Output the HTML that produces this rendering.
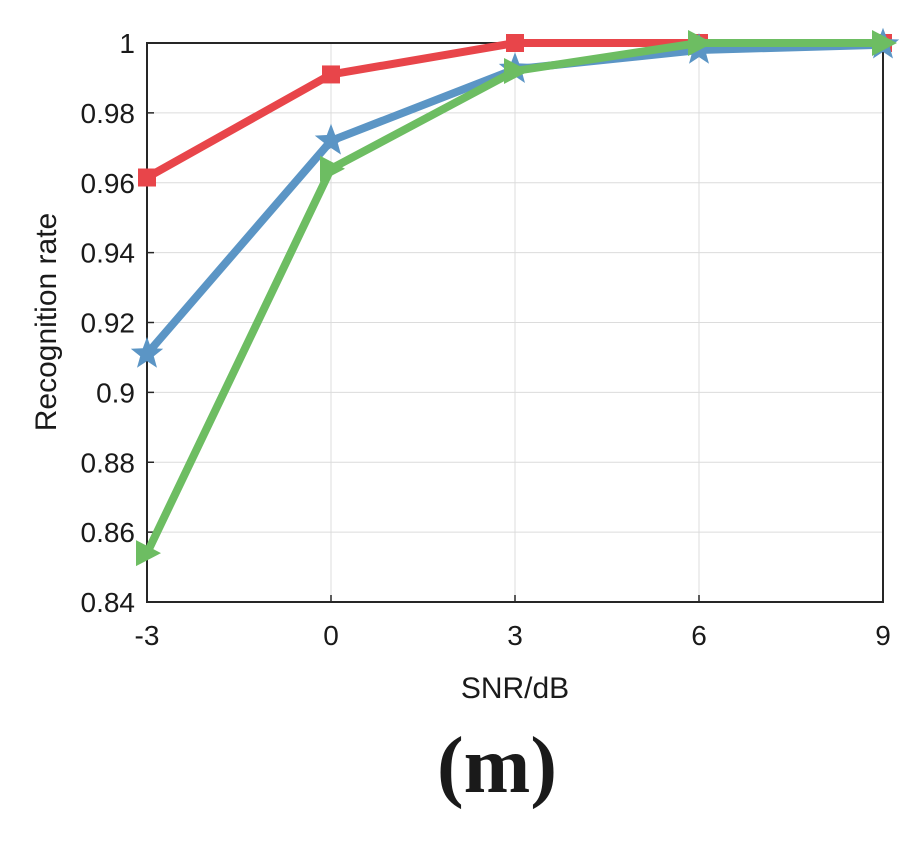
<!DOCTYPE html>
<html><head><meta charset="utf-8"><style>
body{margin:0;background:#fff;width:922px;height:837px;overflow:hidden}
text{font-family:"Liberation Sans",Arial,sans-serif;fill:#1a1a1a}
</style></head><body>
<svg id="chart" width="922" height="837" xmlns="http://www.w3.org/2000/svg">
<g id="grid"></g>
<g id="axes"></g>
<g id="series"></g>
<text x="515" y="698" font-size="30" text-anchor="middle">SNR/dB</text>
<text transform="translate(56,322) rotate(-90)" font-size="30" text-anchor="middle">Recognition rate</text>
<text x="497" y="792" font-size="80" font-weight="bold" text-anchor="middle" style="font-family:'Liberation Serif',serif">(m)</text>
</svg>
<script>
const categories=[-3,0,3,6,9];
const redValues=[0.9615,0.991,1.0,1.0,1.0];
const blueValues=[0.911,0.972,0.9925,0.998,0.9995];
const greenValues=[0.854,0.964,0.992,1.0,1.0];
const yTicks=[0.84,0.86,0.88,0.9,0.92,0.94,0.96,0.98,1];
const yTickLabels=['0.84','0.86','0.88','0.9','0.92','0.94','0.96','0.98','1'];
const xTickLabels=['-3','0','3','6','9'];
const L=147,R=883,T=43,B=602;
const x=v=>L+(v+3)/12*(R-L);
const y=v=>B-(v-0.84)/0.16*(B-T);
const NS='http://www.w3.org/2000/svg';
function mk(tag,attrs,parent){const e=document.createElementNS(NS,tag);for(const k in attrs)e.setAttribute(k,attrs[k]);parent.appendChild(e);return e;}
const grid=document.getElementById('grid'),axes=document.getElementById('axes'),series=document.getElementById('series');
yTicks.forEach((t,i)=>{
  const g=mk('line',{x1:L,x2:R,y1:y(t),y2:y(t),stroke:'#dcdcdc','stroke-width':1},grid);
  
  
  const tk=mk('line',{x1:L,x2:L+7,y1:y(t),y2:y(t),stroke:'#262626','stroke-width':1.5},axes);
  
  
  const lb=mk('text',{x:L-12,y:y(t)+10,'font-size':28,'text-anchor':'end'},axes);
  lb.textContent=yTickLabels[i];
  
  
});
categories.forEach((c,i)=>{
  const g=mk('line',{x1:x(c),x2:x(c),y1:T,y2:B,stroke:'#dcdcdc','stroke-width':1},grid);
  
  
  const tk=mk('line',{x1:x(c),x2:x(c),y1:B,y2:B-7,stroke:'#262626','stroke-width':1.5},axes);
  
  
  const lb=mk('text',{x:x(c),y:B+43,'font-size':28,'text-anchor':'middle'},axes);
  lb.textContent=xTickLabels[i];
  
  
});
const box=mk('rect',{x:L,y:T,width:R-L,height:B-T,fill:'none',stroke:'#262626','stroke-width':2},axes);


function star(cx,cy,r){let p=[];for(let i=0;i<10;i++){const a=-Math.PI/2+i*Math.PI/5;const rr=i%2?r*0.42:r;p.push((cx+rr*Math.cos(a)).toFixed(1)+','+(cy+rr*Math.sin(a)).toFixed(1));}return p.join(' ');}
function drawSeries(vals,color,name,marker){
  const pl=mk('polyline',{points:vals.map((v,i)=>x(categories[i])+','+y(v)).join(' '),fill:'none',stroke:color,'stroke-width':8,'stroke-linejoin':'round'},series);
  
  
  vals.forEach((v,i)=>{
    const cx=x(categories[i]),cy=y(v);let m;
    if(marker==='square')m=mk('rect',{x:cx-9,y:cy-9,width:18,height:18,fill:color},series);
    else if(marker==='star')m=mk('polygon',{points:star(cx,cy,17),fill:color},series);
    else m=mk('polygon',{points:`${cx-11},${cy-13} ${cx+14},${cy} ${cx-11},${cy+13}`,fill:color},series);
    
    
  });
}
drawSeries(redValues,'#e8454a','red-series','square');
drawSeries(blueValues,'#5b95c5','blue-series','star');
drawSeries(greenValues,'#6dbd62','green-series','triangle');
</script>
</body></html>
